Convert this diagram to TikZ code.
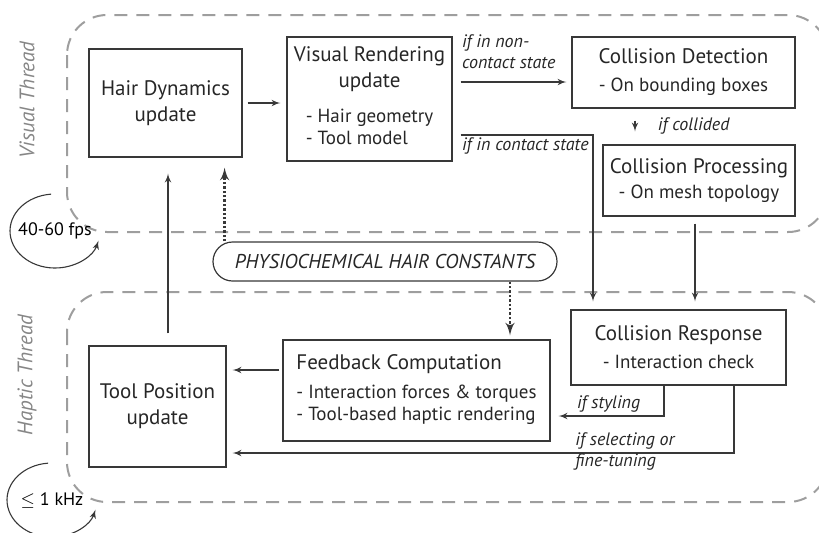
\documentclass[tikz,border=0pt]{standalone}
\usepackage{fontspec}
\setmainfont{PT Sans}
\usepackage{tikz}
\usetikzlibrary{arrows}
\usetikzlibrary{positioning}
\definecolor{threadgray}{gray}{0.62}
\definecolor{inkgray}{gray}{0.22}
\newcommand{\itemfont}{\fontsize{9.5}{11}\selectfont}
\tikzset{box/.style = {draw=inkgray, line width=0.6pt, inner sep=0pt,
                       text=black!85, font=\fontsize{10.5}{13}\selectfont},
         thread/.style = {draw=threadgray, line width=1pt,
                          dash pattern=on 6.5pt off 4.5pt, rounded corners=20pt},
         flow/.style = {-latex', line width=0.55pt, draw=inkgray},
         physio/.style = {-latex', line width=1.2pt, densely dotted, draw=inkgray},
         cond/.style = {font=\fontsize{9}{10.5}\selectfont\itshape, inner sep=0pt,
                        align=left, text=black!85},
         threadname/.style = {font=\fontsize{10.5}{12}\selectfont\itshape,
                              text=threadgray!85!black, rotate=90}}

\begin{document}
\begin{tikzpicture}[x=0.5pt, y=-0.5pt]
    \useasboundingbox (0,0) rectangle (819,532);
    \clip (0,0) rectangle (819,532);

    % the two threads
    \draw [thread] (67,15) rectangle (828,232);
    \draw [thread] (67,292) rectangle (828,502);
    \node [threadname] (visname) at (27,100) {Visual Thread};
    \node [threadname] (hapname) at (27,375) {Haptic Thread};

    % update rates
    \node [font=\fontsize{9}{11}\selectfont] (fps) at (55,231) {40-60 fps};
    \node [font=\fontsize{9}{11}\selectfont] (khz) at (52,500) {$\leq$ 1 kHz};
    \draw [flow] (fps.center) ++(95:22.5pt and 18.5pt)
      arc [start angle=95, end angle=345, x radius=22.5pt, y radius=18.5pt];
    \draw [flow] (khz.center) ++(95:22.5pt and 18.5pt)
      arc [start angle=95, end angle=345, x radius=22.5pt, y radius=18.5pt];

    % boxes
    \node [box, minimum width=76.5pt, minimum height=54pt, align=center]
      (hairdyn) at (165.5,103) {Hair Dynamics\\update};
    \node [box, minimum width=82.5pt, minimum height=62pt, align=center]
      (visrend) at (369.5,99) {Visual Rendering\\update\\[4.5pt]
      {\itemfont\begin{tabular}[t]{@{}l@{}}- Hair geometry\\- Tool model\end{tabular}}};
    \node [box, minimum width=111.5pt, minimum height=35.5pt, align=center]
      (colldet) at (683.5,72.5) {Collision Detection\\[1pt]{\itemfont - On bounding boxes}};
    \node [box, minimum width=96pt, minimum height=35.5pt, align=center]
      (collproc) at (699,180.5) {Collision Processing\\[-0.5pt]{\itemfont - On mesh topology}};
    \node [box, minimum width=107.5pt, minimum height=37.5pt, align=center]
      (collresp) at (678.5,347.5) {Collision Response\\[1pt]{\itemfont - Interaction check}};
    \node [box, minimum width=133.5pt, minimum height=50.5pt, align=left]
      (feedback) at (416.5,390.5) {Feedback Computation\\[1.5pt]
      {\itemfont\begin{tabular}[t]{@{}l@{}}- Interaction forces \& torques\\- Tool-based haptic rendering\end{tabular}}};
    \node [box, minimum width=68.5pt, minimum height=60.5pt, align=center]
      (toolpos) at (157.5,406.5) {Tool Position\\update};
    \node [draw=inkgray, line width=0.6pt, rounded corners=9.75pt, minimum width=172pt,
           minimum height=19.5pt, font=\fontsize{10}{12}\selectfont\itshape, text=black!85]
      (constants) at (385,261.5) {PHYSIOCHEMICAL HAIR CONSTANTS};

    % visual thread
    \draw [flow, shorten <=2.5pt, shorten >=3pt] (hairdyn.east) -- (visrend.west |- hairdyn.east);
    \draw [flow, shorten <=4pt, shorten >=2.5pt]
      ([yshift=8.5pt]visrend.east) -- ([yshift=8.5pt]visrend.east -| colldet.west);
    \node [cond, anchor=south west] (noncontact) at ([xshift=4.5pt,yshift=15pt]visrend.east)
      {if in non-\\contact state};
    \draw [flow, shorten >=4pt]
      ([xshift=4pt,yshift=-18pt]visrend.east) -| ([xshift=-42.75pt]collresp.north);
    \node [cond, anchor=north west] (contact) at ([xshift=4.5pt,yshift=-19pt]visrend.east)
      {if in contact state};
    \draw [flow, shorten <=6pt, shorten >=6.5pt]
      ([xshift=-24.25pt]colldet.south) -- ([xshift=-24.25pt]colldet.south |- collproc.north);
    \node [cond, anchor=west] (collided) at ([xshift=-13pt,yshift=-8.5pt]colldet.south)
      {if collided};
    \draw [flow, shorten <=3.5pt, shorten >=4pt]
      ([xshift=-2pt]collproc.south) -- ([xshift=-2pt]collproc.south |- collresp.north);

    % haptic thread
    \draw [flow, shorten >=4pt]
      ([xshift=-7.25pt]collresp.south) |- ([yshift=-12.75pt]feedback.east);
    \node [cond, anchor=south west] (styling) at ([xshift=13pt,yshift=-11.25pt]feedback.east)
      {if styling};
    \draw [flow, shorten >=3pt]
      ([xshift=27.75pt]collresp.south) |- ([yshift=-23.25pt]toolpos.east);
    \node [cond, anchor=west, align=left] (selecting) at ([xshift=-51.75pt,yshift=-33pt]collresp.south)
      {if selecting or\\fine-tuning};
    \draw [flow, shorten <=1.5pt, shorten >=3pt]
      ([yshift=10.25pt]feedback.west) -- ([yshift=10.25pt]feedback.west -| toolpos.east);
    \draw [flow, shorten <=6pt, shorten >=8pt]
      ([xshift=5.25pt]toolpos.north) -- ([xshift=5.25pt]toolpos.north |- hairdyn.south);

    % constants
    \draw [physio, shorten >=5pt]
      ([xshift=-9pt]hairdyn.south east |- constants.north) -- ([xshift=-9pt]hairdyn.south east);
    \draw [physio, shorten >=2pt]
      ([xshift=62.5pt]constants.south) -- ([xshift=62.5pt]constants.south |- feedback.north);
\end{tikzpicture}
\end{document}
